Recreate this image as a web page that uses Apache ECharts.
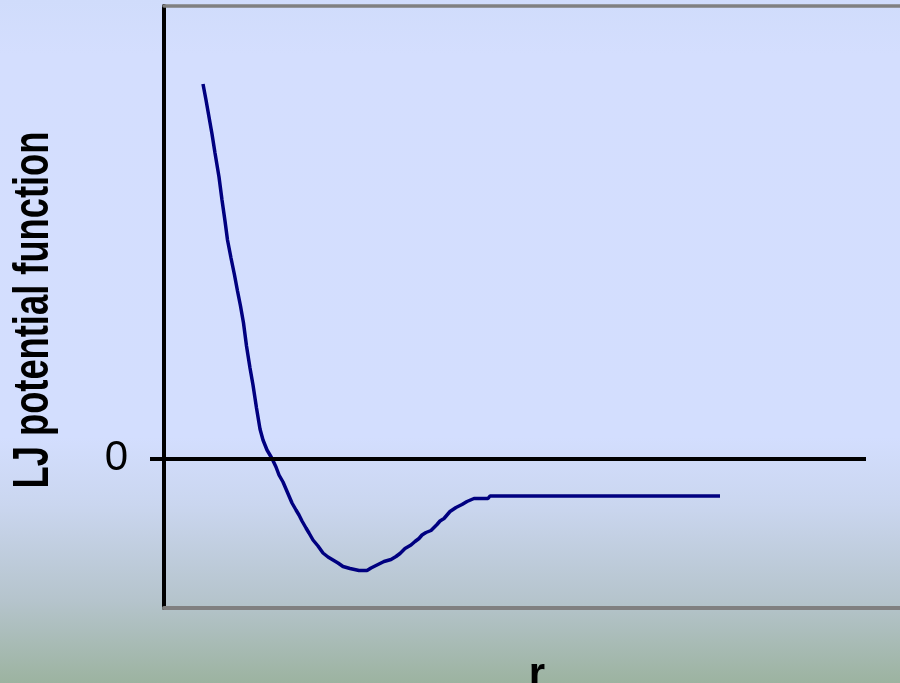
<!DOCTYPE html>
<html>
<head>
<meta charset="utf-8">
<script src="https://cdn.jsdelivr.net/npm/echarts@6/dist/echarts.min.js"></script>
<style>html,body{margin:0;padding:0;}#c{width:900px;height:683px;}</style>
</head>
<body>
<div id="c"></div>
<script>
// r positions (arbitrary units) and potential values (arbitrary units)
const rValues = [39, 42, 45, 48, 51, 55, 58, 61, 63.5, 67, 70.5, 73.5, 76.5, 79.5, 82.5, 86, 89, 92.5, 96, 99, 103, 108, 112, 115, 119, 122, 125, 128, 132, 135, 138, 142, 145, 149, 154, 159, 164, 169, 174, 179, 186, 195, 203, 207, 213, 220, 227, 232, 236, 241, 247, 251, 255, 258, 262, 267, 270, 273, 276, 280, 283, 286, 292, 298, 303, 310, 316, 324, 326, 436, 556];
const uValues = [374.5, 358.5, 341.5, 324.5, 305.5, 281.5, 258.5, 237.5, 218.5, 200.5, 183.5, 167.5, 152.5, 135.5, 112.5, 90.5, 73.5, 50.5, 29.5, 18.5, 8.5, 0, -8.5, -16.5, -23.5, -30.5, -37.5, -44.5, -51.5, -56.5, -62.5, -69.5, -74.5, -81.5, -87.5, -94.5, -98.5, -101.5, -104.5, -108, -110, -112, -112, -109.5, -106.5, -103, -101, -98, -95, -90, -86.5, -83, -80, -76.5, -74, -72, -69, -66, -62.5, -60, -56.5, -53, -49, -46, -43, -40, -40, -40, -37.5, -37.5, -37.5];
const yTickLabels = [0];
const yTitle = 'LJ potential function';
const xTitle = 'r';
const zeroLineEnd = 702;

const data = rValues.map((r, i) => [r, uValues[i]]);

const chart = echarts.init(document.getElementById('c'), null, {renderer: 'canvas'});
chart.setOption({
  animation: false,
  backgroundColor: {
    type: 'linear', x: 0, y: 0, x2: 0, y2: 1,
    colorStops: [
      {offset: 0, color: '#D0DCFB'},
      {offset: 0.08, color: '#D4DEFE'},
      {offset: 0.64, color: '#D3DEFE'},
      {offset: 0.74, color: '#CAD6EF'},
      {offset: 0.88, color: '#B5C4CC'},
      {offset: 1, color: '#9CB3A0'}
    ]
  },
  grid: {left: 164, right: 0, top: 6, bottom: 75, containLabel: false},
  xAxis: [{
    type: 'value', min: 0, max: 736, position: 'bottom',
    axisLine: {show: true, onZero: false, lineStyle: {color: '#808080', width: 4}},
    axisTick: {show: false}, axisLabel: {show: false}, splitLine: {show: false}
  }, {
    type: 'value', min: 0, max: 736, position: 'top',
    axisLine: {show: true, onZero: false, lineStyle: {color: '#808080', width: 3.5}},
    axisTick: {show: false}, axisLabel: {show: false}, splitLine: {show: false}
  }],
  yAxis: {
    type: 'value', min: -149.5, max: 452.5,
    axisLine: {show: true, onZero: false, lineStyle: {color: '#000000', width: 4}},
    axisTick: {show: true, customValues: yTickLabels, length: 14, lineStyle: {color: '#000', width: 4}},
    axisLabel: {show: true, customValues: yTickLabels, margin: 36, color: '#000',
      fontFamily: 'Liberation Sans, Arial, sans-serif', fontSize: 42},
    splitLine: {show: false}
  },
  series: [{
    type: 'line', data: data, showSymbol: false, symbol: 'none', smooth: false,
    lineStyle: {color: '#000080', width: 3.5}, z: 3,
    markLine: {
      silent: true, symbol: 'none', label: {show: false},
      lineStyle: {color: '#000', width: 4, type: 'solid'},
      emphasis: {disabled: true},
      data: [[{coord: [0, 0]}, {coord: [zeroLineEnd, 0]}]]
    }
  }],
  graphic: [{
    type: 'text', x: 34, y: 310, rotation: Math.PI / 2, scaleX: 0.726, scaleY: 1,
    style: {text: yTitle, fill: '#000', font: 'bold 50px "Liberation Sans", Arial, sans-serif',
      textAlign: 'center', textVerticalAlign: 'middle'}
  }, {
    type: 'text', x: 537, y: 654,
    style: {text: xTitle, fill: '#000', font: 'bold 42px "Liberation Sans", Arial, sans-serif',
      textAlign: 'center', textVerticalAlign: 'top'}
  }]
});
</script>
</body>
</html>
